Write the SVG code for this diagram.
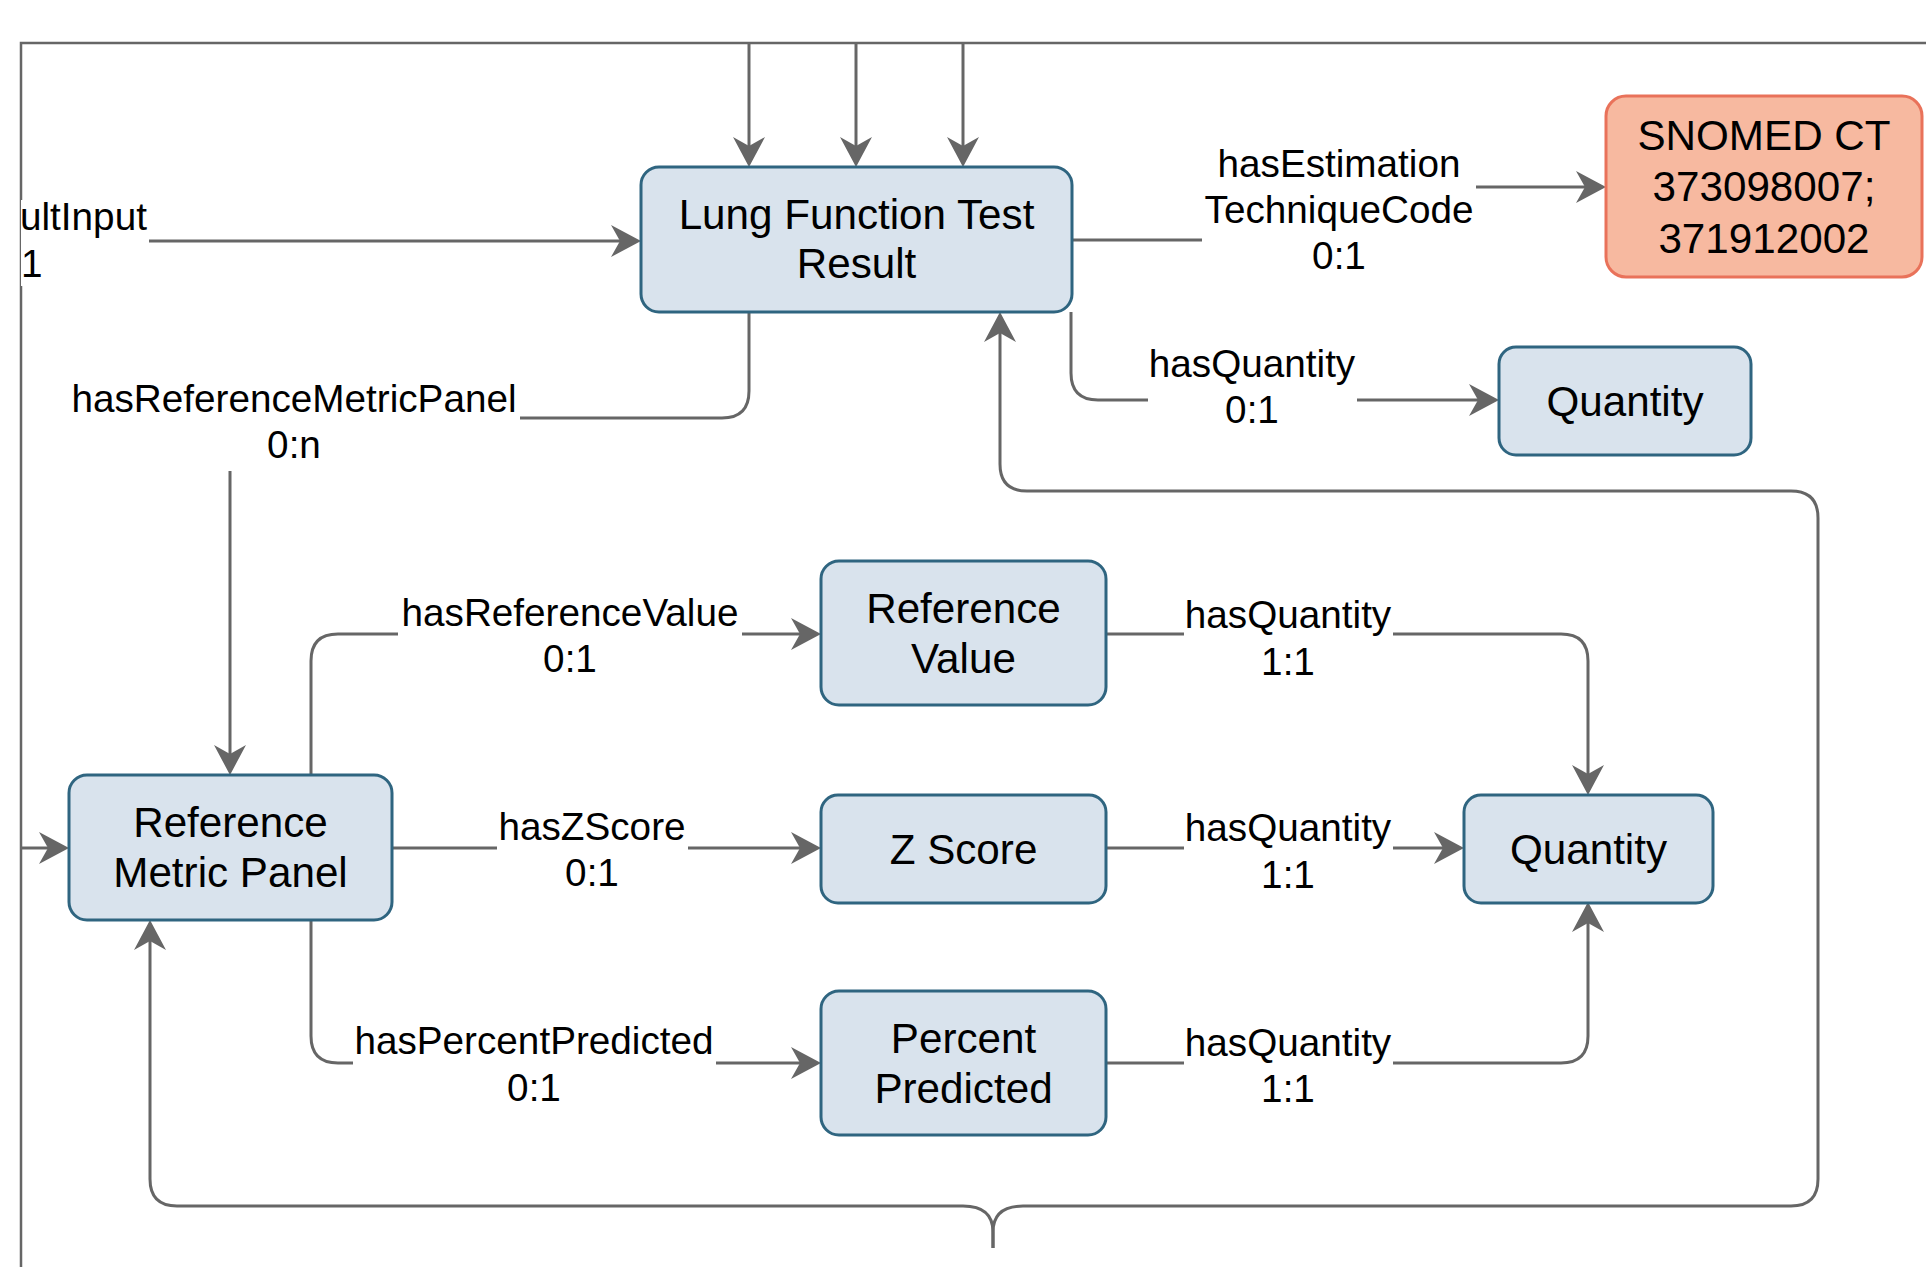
<svg xmlns="http://www.w3.org/2000/svg" width="1926" height="1267" viewBox="0 0 1926 1267">
<style>
.node{fill:#D9E3ED;stroke:#2F6580;stroke-width:3}
.code{fill:#F7B9A0;stroke:#E9725A;stroke-width:3}
.ntxt{font-family:"Liberation Sans",Arial,sans-serif;font-size:42.2px;fill:#000;text-anchor:middle}
.ltxt{font-family:"Liberation Sans",Arial,sans-serif;font-size:38.7px;fill:#000;text-anchor:middle}
.edge{fill:none;stroke:#666;stroke-width:3}
.frame{fill:none;stroke:#666;stroke-width:2.5}
.lbg{fill:#fff}
</style>
<defs>
<marker id="arr" markerUnits="userSpaceOnUse" viewBox="-31 -17 32 34" markerWidth="32" markerHeight="34" refX="-21" refY="0" orient="auto">
<path d="M0,0 L-30,-16 L-21,0 L-30,16 Z" fill="#666"/>
</marker>
</defs>
<rect width="1926" height="1267" fill="#fff"/>
<path class="frame" d="M21,1267 V43 H1926"/>
<g id="connectors">
<path class="edge" marker-end="url(#arr)" d="M749,43 V146"/>
<path class="edge" marker-end="url(#arr)" d="M856,43 V146"/>
<path class="edge" marker-end="url(#arr)" d="M963,43 V146"/>
<path class="edge" marker-end="url(#arr)" d="M21,241 H620"/>
<path class="edge" marker-end="url(#arr)" d="M1072,240 H1339 V187 H1585"/>
<path class="edge" marker-end="url(#arr)" d="M1071,312 V373 Q1071,400 1098,400 H1478"/>
<path class="edge" marker-end="url(#arr)" d="M749,312 V391 Q749,418 722,418 H257 Q230,418 230,445 V754"/>
<path class="edge" marker-end="url(#arr)" d="M21,848 H48"/>
<path class="edge" marker-end="url(#arr)" d="M311,775 V661 Q311,634 338,634 H800"/>
<path class="edge" marker-end="url(#arr)" d="M392,848 H800"/>
<path class="edge" marker-end="url(#arr)" d="M311,920 V1036 Q311,1063 338,1063 H800"/>
<path class="edge" marker-end="url(#arr)" d="M1106,634 H1561 Q1588,634 1588,661 V774"/>
<path class="edge" marker-end="url(#arr)" d="M1106,848 H1443"/>
<path class="edge" marker-end="url(#arr)" d="M1106,1063 H1561 Q1588,1063 1588,1036 V923"/>
<path class="edge" marker-end="url(#arr)" d="M993,1248 V1232 Q993,1206 963,1206 H177 Q150,1206 150,1179 V941"/>
<path class="edge" marker-end="url(#arr)" d="M993,1248 V1232 Q993,1206 1023,1206 H1791 Q1818,1206 1818,1179 V518 Q1818,491 1791,491 H1027 Q1000,491 1000,464 V333"/>
<g id="lbl-input">
<rect class="lbg" x="21" y="200" width="128" height="86"/>
<text class="ltxt" style="text-anchor:start" x="20" y="230">ultInput</text>
<text class="ltxt" style="text-anchor:start" x="21" y="276.7">1</text>
</g>
<g id="lbl-estimation">
<rect class="lbg" x="1202" y="145" width="274" height="135"/>
<text class="ltxt" x="1339" y="176.7">hasEstimation</text>
<text class="ltxt" x="1339" y="223.3">TechniqueCode</text>
<text class="ltxt" x="1339" y="269.3">0:1</text>
</g>
<g id="lbl-qty-top">
<rect class="lbg" x="1148" y="345" width="209" height="90"/>
<text class="ltxt" x="1252" y="376.7">hasQuantity</text>
<text class="ltxt" x="1252" y="423.3">0:1</text>
</g>
<g id="lbl-rmp">
<rect class="lbg" x="69" y="379" width="451" height="92"/>
<text class="ltxt" x="294" y="411.7">hasReferenceMetricPanel</text>
<text class="ltxt" x="294" y="458.3">0:n</text>
</g>
<g id="lbl-refval">
<rect class="lbg" x="398" y="594" width="344" height="88"/>
<text class="ltxt" x="570" y="625.5">hasReferenceValue</text>
<text class="ltxt" x="570" y="672">0:1</text>
</g>
<g id="lbl-zscore">
<rect class="lbg" x="497" y="808" width="191" height="88"/>
<text class="ltxt" x="592" y="839.5">hasZScore</text>
<text class="ltxt" x="592" y="886">0:1</text>
</g>
<g id="lbl-pp">
<rect class="lbg" x="353" y="1022" width="363" height="88"/>
<text class="ltxt" x="534" y="1054">hasPercentPredicted</text>
<text class="ltxt" x="534" y="1100.5">0:1</text>
</g>
<g id="lbl-q1">
<rect class="lbg" x="1184" y="596" width="209" height="88"/>
<text class="ltxt" x="1288" y="628">hasQuantity</text>
<text class="ltxt" x="1288" y="674.5">1:1</text>
</g>
<g id="lbl-q2">
<rect class="lbg" x="1184" y="810" width="209" height="88"/>
<text class="ltxt" x="1288" y="841">hasQuantity</text>
<text class="ltxt" x="1288" y="887.5">1:1</text>
</g>
<g id="lbl-q3">
<rect class="lbg" x="1184" y="1024" width="209" height="88"/>
<text class="ltxt" x="1288" y="1055.5">hasQuantity</text>
<text class="ltxt" x="1288" y="1102">1:1</text>
</g>
</g>
<g id="node-lung">
<rect class="node" x="641" y="167" width="431" height="145" rx="18"/>
<text class="ntxt" x="856.5" y="229">Lung Function Test</text>
<text class="ntxt" x="856.5" y="278">Result</text>
</g>
<g id="node-snomed">
<rect class="code" x="1606" y="96" width="316" height="181" rx="20"/>
<text class="ntxt" x="1764" y="150">SNOMED CT</text>
<text class="ntxt" x="1764" y="200.7">373098007;</text>
<text class="ntxt" x="1764" y="253.3">371912002</text>
</g>
<g id="node-quantity-top">
<rect class="node" x="1499" y="347" width="252" height="108" rx="17"/>
<text class="ntxt" x="1625" y="415.5">Quantity</text>
</g>
<g id="node-rmp">
<rect class="node" x="69" y="775" width="323" height="145" rx="18"/>
<text class="ntxt" x="230.5" y="836.7">Reference</text>
<text class="ntxt" x="230.5" y="886.7">Metric Panel</text>
</g>
<g id="node-refval">
<rect class="node" x="821" y="561" width="285" height="144" rx="18"/>
<text class="ntxt" x="963.5" y="622.5">Reference</text>
<text class="ntxt" x="963.5" y="672.5">Value</text>
</g>
<g id="node-zscore">
<rect class="node" x="821" y="795" width="285" height="108" rx="17"/>
<text class="ntxt" x="963.5" y="863.5">Z Score</text>
</g>
<g id="node-pp">
<rect class="node" x="821" y="991" width="285" height="144" rx="18"/>
<text class="ntxt" x="963.5" y="1052.5">Percent</text>
<text class="ntxt" x="963.5" y="1102.5">Predicted</text>
</g>
<g id="node-quantity-mid">
<rect class="node" x="1464" y="795" width="249" height="108" rx="17"/>
<text class="ntxt" x="1588.5" y="863.5">Quantity</text>
</g>
</svg>
